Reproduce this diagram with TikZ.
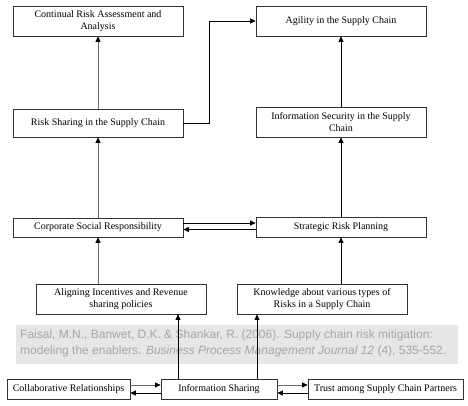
\documentclass[tikz,border=0pt]{standalone}
\usepackage{fontspec}
\setmainfont{Liberation Serif}
\newfontfamily\citefont{Liberation Sans}
\usetikzlibrary{arrows.meta}
\definecolor{bandgray}{HTML}{E6E6E6}
\definecolor{citegray}{HTML}{A6A6A6}
\definecolor{lgray}{HTML}{6A6A6A}
\tikzset{
  box/.style={draw=black!80, line width=0.75pt, inner sep=1pt, align=center,
    font=\fontsize{10}{12}\selectfont, text=black},
  arr/.style={-{Triangle[length=5.5pt,width=5pt,color=black,fill=black]}, line width=0.8pt},
  garr/.style={arr, draw=lgray},
}
\begin{document}
\begin{tikzpicture}[x=1pt,y=-1pt]
\useasboundingbox (0,0) rectangle (468,406);
% citation band
\fill[bandgray] (16,325) rectangle (458,364);
\node[anchor=base west, inner sep=0, text=citegray, font=\citefont\fontsize{12}{16}\selectfont] (c1) at (20,338) {Faisal, M.N., Banwet, D.K. \& Shankar, R. (2006). Supply chain risk mitigation:};
\node[anchor=base west, inner sep=0, text=citegray, font=\citefont\fontsize{12}{16}\selectfont] (c2) at (20,354) {modeling the enablers. \textit{Business Process Management Journal 12} (4), 535-552.};
% boxes
\node[box, minimum width=170, minimum height=30] (cra) at (98,21) {Continual Risk Assessment and\\Analysis};
\node[box, minimum width=170, minimum height=28] (rs) at (98,123) {Risk Sharing in the Supply Chain};
\node[box, minimum width=170, minimum height=30] (ag) at (341,21) {Agility in the Supply Chain};
\node[box, minimum width=170, minimum height=30] (is) at (341,122) {Information Security in the Supply\\Chain};
\node[box, minimum width=170, minimum height=19] (csr) at (98,227.5) {Corporate Social Responsibility};
\node[box, minimum width=170, minimum height=20] (srp) at (341,227) {Strategic Risk Planning};
\node[box, minimum width=170, minimum height=30] (al) at (121,299) {Aligning Incentives and Revenue\\sharing policies};
\node[box, minimum width=170, minimum height=30] (kn) at (322,299) {Knowledge about various types of\\Risks in a Supply Chain};
\node[box, minimum width=123, minimum height=20] (co) at (68.5,389) {Collaborative Relationships};
\node[box, minimum width=116, minimum height=20] (ish) at (219,389) {Information Sharing};
\node[box, minimum width=155, minimum height=20] (tr) at (385.5,389) {Trust among Supply Chain Partners};
% left column
\draw[garr] (rs) -- (cra);
\draw[garr] (csr) -- (rs);
\draw[garr] (csr.south |- al.north) -- (csr.south);
\draw[arr] (rs.east) -- ++(26,0) |- (ag.west);
% right column
\draw[arr] (is) -- (ag);
\draw[arr] (srp) -- (is);
\draw[arr] (srp.south |- kn.north) -- (srp.south);
% CSR <-> SRP
\draw[arr] ([yshift=4.5pt]csr.east) -- ([yshift=4.5pt]csr.east -| srp.west);
\draw[arr] ([yshift=-2.5pt]srp.west) -- ([yshift=-2.5pt]srp.west -| csr.east);
% Info sharing up
\draw[arr] ([xshift=-41pt]ish.north) -- ([xshift=-41pt]ish.north |- al.south);
\draw[arr] ([xshift=38pt]ish.north) -- ([xshift=38pt]ish.north |- kn.south);
% bottom pairs
\draw[garr] ([yshift=4pt]co.east) -- ([yshift=4pt]co.east -| ish.west);
\draw[arr] ([yshift=-4pt]ish.west) -- ([yshift=-4pt]ish.west -| co.east);
\draw[garr] ([yshift=4pt]ish.east) -- ([yshift=4pt]ish.east -| tr.west);
\draw[arr] ([yshift=-4pt]tr.west) -- ([yshift=-4pt]tr.west -| ish.east);
\end{tikzpicture}
\end{document}
